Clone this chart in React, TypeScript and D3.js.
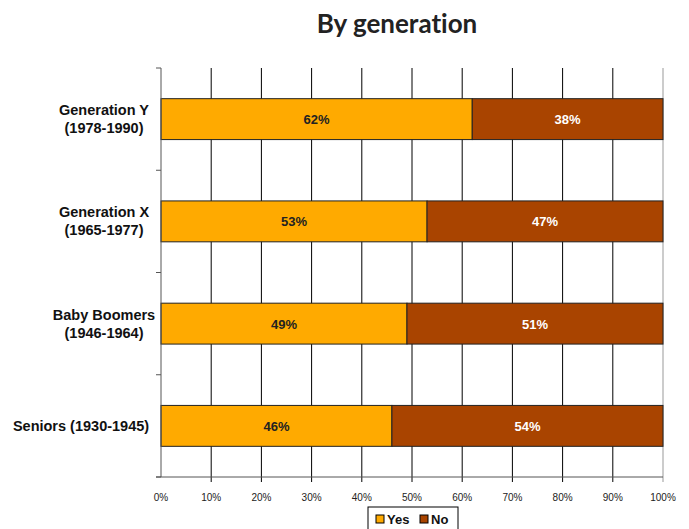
import React, { useRef, useEffect } from 'react';
import * as d3 from 'd3';

const categories = [
  ['Generation Y', '(1978-1990)'],
  ['Generation X', '(1965-1977)'],
  ['Baby Boomers', '(1946-1964)'],
  ['Seniors (1930-1945)'],
];
const yesValues = [62, 53, 49, 46];
const noValues = [38, 47, 51, 54];
const xTicks = [0, 10, 20, 30, 40, 50, 60, 70, 80, 90, 100];
const seriesNames = ['Yes', 'No'];
const seriesColors = ['#FFAA00', '#A94400'];

const App = () => {
  const svgRef = useRef<SVGSVGElement>(null);

  useEffect(() => {
    const width = 689;
    const height = 529;
    const margin = { top: 68, left: 161 };

    const svg = d3.select(svgRef.current);
    svg.selectAll('*').remove();
    svg.attr('width', width).attr('height', height).style('display', 'block');

    const innerWidth = 663 - margin.left;
    const innerHeight = 477 - margin.top;

    const g = svg.append('g').attr('transform', `translate(${margin.left},${margin.top})`);

    const x = d3.scaleLinear().domain([0, 100]).range([0, innerWidth]);
    const y = d3.scaleBand<number>()
      .domain(d3.range(categories.length))
      .range([0, innerHeight])
      .paddingInner(0.6)
      .paddingOuter(0.3);
    const band = d3.scaleBand<number>().domain(d3.range(categories.length)).range([0, innerHeight]);

    // title
    svg.append('text')
      .attr('x', 397).attr('y', 33)
      .attr('text-anchor', 'middle')
      .attr('font-family', 'Lato, sans-serif')
      .attr('font-weight', 'bold')
      .attr('font-size', 26)
      .style('font-variant-ligatures', 'none')
      .attr('fill', '#222')
      .text('By generation');

    // vertical grid
    g.selectAll('.grid')
      .data(xTicks.slice(1))
      .join('line')
      .attr('x1', d => x(d)).attr('x2', d => x(d))
      .attr('y1', 0).attr('y2', innerHeight + 5)
      .attr('stroke', d => (d === 100 ? '#999' : '#000'))
      .attr('stroke-width', 1);

    // bars
    const stacks = categories.map((_, i) => [
      { s: 0, x0: 0, x1: yesValues[i], v: yesValues[i] },
      { s: 1, x0: yesValues[i], x1: yesValues[i] + noValues[i], v: noValues[i] },
    ]);

    stacks.forEach((segs, i) => {
      const row = g.append('g');
      row.selectAll('rect')
        .data(segs)
        .join('rect')
        .attr('x', d => x(d.x0))
        .attr('y', y(i)!)
        .attr('width', d => x(d.x1) - x(d.x0))
        .attr('height', y.bandwidth())
        .attr('fill', d => seriesColors[d.s])
        .attr('stroke', '#222')
        .attr('stroke-width', 1);
      row.selectAll('text')
        .data(segs)
        .join('text')
        .attr('x', d => (x(d.x0) + x(d.x1)) / 2)
        .attr('y', y(i)! + y.bandwidth() / 2 + 5)
        .attr('text-anchor', 'middle')
        .attr('font-family', 'Arial, Liberation Sans, sans-serif')
        .attr('font-weight', 'bold')
        .attr('font-size', 13)
        .attr('fill', d => (d.s === 0 ? '#222' : '#fff'))
        .text(d => `${d.v}%`);
    });

    // left axis
    g.append('line')
      .attr('x1', 0).attr('x2', 0).attr('y1', 0).attr('y2', innerHeight)
      .attr('stroke', '#555');
    g.selectAll('.ltick')
      .data(d3.range(categories.length + 1))
      .join('line')
      .attr('x1', -5).attr('x2', 0)
      .attr('y1', d => (d < categories.length ? band(d)! : innerHeight))
      .attr('y2', d => (d < categories.length ? band(d)! : innerHeight))
      .attr('stroke', '#555');

    // bottom axis
    g.append('line')
      .attr('x1', -5).attr('x2', innerWidth).attr('y1', innerHeight).attr('y2', innerHeight)
      .attr('stroke', '#555');
    g.selectAll('.xlabel')
      .data(xTicks)
      .join('text')
      .attr('x', d => x(d))
      .attr('y', innerHeight + 24)
      .attr('text-anchor', 'middle')
      .attr('font-family', 'Arial, Liberation Sans, sans-serif')
      .attr('font-size', 10)
      .attr('fill', '#222')
      .text(d => `${d}%`);

    // category labels
    categories.forEach((lines, i) => {
      const cy = band(i)! + band.bandwidth() / 2;
      const t = g.append('text')
        .attr('text-anchor', 'middle')
        .attr('font-family', 'Arial, Liberation Sans, sans-serif')
        .attr('font-weight', 'bold')
        .attr('font-size', 14.5)
        .attr('fill', '#111');
      lines.forEach((line, j) => {
        t.append('tspan')
          .attr('x', lines.length > 1 ? -57 : -80)
          .attr('y', cy + 5 + (j - (lines.length - 1) / 2) * 18)
          .text(line);
      });
    });

    // legend
    const lg = svg.append('g').attr('transform', 'translate(368,507)');
    lg.append('rect')
      .attr('x', 0).attr('y', 0).attr('width', 90).attr('height', 30)
      .attr('fill', '#fff').attr('stroke', '#000');
    const items = lg.selectAll('.item')
      .data(seriesNames)
      .join('g')
      .attr('transform', (_, i) => `translate(${8 + i * 44},8)`);
    items.append('rect')
      .attr('width', 8).attr('height', 8)
      .attr('fill', (_, i) => seriesColors[i])
      .attr('stroke', '#000');
    items.append('text')
      .attr('x', 11).attr('y', 9)
      .attr('font-family', 'Arial, Liberation Sans, sans-serif')
      .attr('font-weight', 'bold')
      .attr('font-size', 13)
      .attr('fill', '#111')
      .text(d => d);
  }, []);

  return <svg ref={svgRef} style={{ position: 'absolute', left: 0, top: 0 }}></svg>;
};

export default App;
